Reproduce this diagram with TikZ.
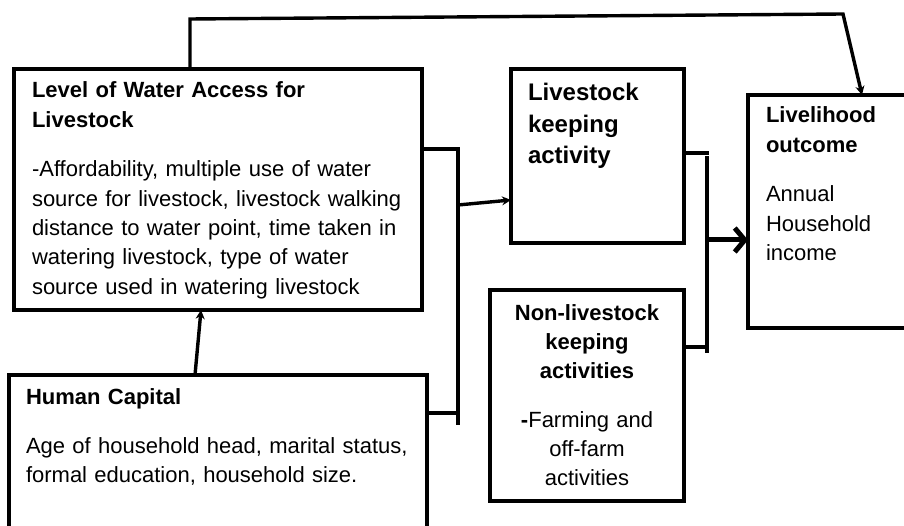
\documentclass[tikz,border=0pt]{standalone}
\usepackage{fontspec}
\setmainfont{Liberation Sans}
\usetikzlibrary{arrows.meta}
\begin{document}
\begin{tikzpicture}[x=1pt,y=-1pt,
  box/.style={draw=black,line width=3.2pt,rectangle,inner sep=0pt,outer sep=0pt,anchor=north west},
  txt/.style={inner sep=0pt,outer sep=0pt,anchor=base west,align=left,text width=400pt,
    font=\fontsize{22}{29.3}\selectfont},
  ctxt/.style={inner sep=0pt,outer sep=0pt,anchor=base,align=center,text width=190pt,
    font=\fontsize{22}{29.3}\selectfont},
  conn/.style={draw=black,line width=3.4pt},
  tip/.style={-{Stealth[length=9pt,width=9pt]}},
  bigtip/.style={line width=5pt,-{Straight Barb[length=10pt,width=24pt,line width=5pt]}}
]
\path[use as bounding box] (0,0) rectangle (904,526);
\fill[white] (0,0) rectangle (904,526);
\clip (0,0) rectangle (904,526);

% boxes
\node[box,minimum width=408pt,minimum height=241pt] (water) at (14,69) {};
\node[box,minimum width=418pt,minimum height=170pt] (hc) at (9,375) {};
\node[box,minimum width=173pt,minimum height=174pt] (ls) at (511,69) {};
\node[box,minimum width=194pt,minimum height=211pt] (nl) at (490,290) {};
\node[box,minimum width=180pt,minimum height=233pt] (lh) at (748,95) {};

% texts
\node[txt] (waterT) at (32,98) {\textbf{Level of Water Access for}\\\textbf{Livestock}};
\node[txt] (waterB) at (32,177) {-Affordability, multiple use of water\\source for livestock, livestock walking\\distance to water point, time taken in\\watering livestock, type of water\\source used in watering livestock};
\node[txt] (hcT) at (26,404) {\textbf{Human Capital}};
\node[txt] (hcB) at (26,453) {Age of household head, marital status,\\formal education, household size.};
\node[txt,font=\fontsize{24}{31.5}\selectfont] (lsT) at (528,101) {\textbf{Livestock}\\\textbf{keeping}\\\textbf{activity}};
\node[ctxt] (nlT) at (587,320) {\textbf{Non-livestock}\\\textbf{keeping}\\\textbf{activities}};
\node[ctxt] (nlB) at (587,427) {\textbf{-}Farming and\\off-farm\\activities};
\node[txt] (lhT) at (766,123) {\textbf{Livelihood}\\\textbf{outcome}};
\node[txt] (lhB) at (766,202) {Annual\\Household\\income};

% junction coordinates
\coordinate (t1) at (190,19);
\coordinate (t2) at (843,14);
\coordinate (t3) at (862,0);
\coordinate (j1) at (458,149);
\coordinate (j2) at (458,425);
\coordinate (j3) at (458,205);
\coordinate (j4) at (458,413);
\coordinate (a1) at (511,200);
\coordinate (k1) at (709,153);
\coordinate (k2) at (707,156);
\coordinate (k3) at (707,353);
\coordinate (k4) at (709,347);
\coordinate (k5) at (707,240);
\coordinate (h1) at (195,0);
\coordinate (h2) at (201,0);

% connectors
\draw[conn,tip] (water.north -| t1) -- (t1) -- (t2) -- (lh.north -| t3);
\draw[conn] (water.east |- j1) -- (j1) -- (j2);
\draw[conn] (hc.east |- j4) -- (j4);
\draw[conn,tip] (j3) -- (ls.west |- a1);
\draw[conn,tip] (hc.north -| h1) -- (water.south -| h2);
\draw[conn] (ls.east |- k1) -- (k1);
\draw[conn] (k2) -- (k3);
\draw[conn] (nl.east |- k4) -- (k4);
\draw[conn,bigtip] (k5) -- (lh.west |- k5);
\end{tikzpicture}
\end{document}
